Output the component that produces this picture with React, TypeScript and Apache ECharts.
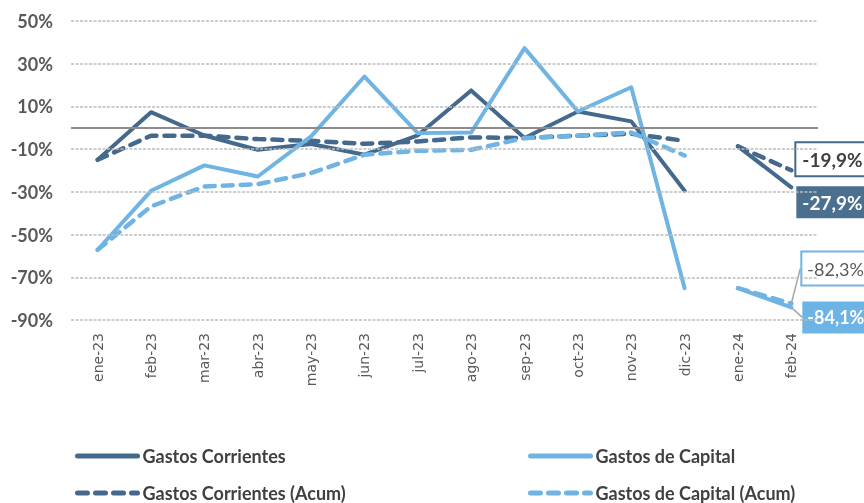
import React, { useEffect, useRef } from "react";
import * as echarts from "echarts";

const categories = ["ene-23", "feb-23", "mar-23", "abr-23", "may-23", "jun-23", "jul-23", "ago-23", "sep-23", "oct-23", "nov-23", "dic-23", "ene-24", "feb-24"];
const gastosCorrientes = [-15.0, 7.3, -3.6, -10.3, -7.6, -12.6, -3.5, 17.5, -4.8, 7.6, 3.0, -29.5, -8.7, -27.9];
const gastosCapital = [-57.1, -29.5, -17.6, -22.8, -4.0, 24.0, -2.5, -2.2, 37.3, 7.6, 19.0, -75.1, -75.1, -84.1];
const corrientesAcum = [-15.0, -3.7, -3.7, -5.3, -6.1, -7.5, -6.4, -4.5, -4.8, -3.7, -2.8, -6.1, -8.7, -19.9];
const capitalAcum = [-57.1, -36.8, -27.5, -26.4, -21.2, -12.6, -10.8, -10.3, -4.8, -3.7, -2.2, -13.0, -75.1, -82.3];
const gridTicks = [-90, -70, -50, -30, -10, 10, 30, 50];
const splitIndex = 12; // 2024 segment starts here (line is broken between dic-23 and ene-24)

const DARK = "#44698C";
const LIGHT = "#6FB4E2";
const fmt = (v: number) => v.toFixed(1).replace(".", ",") + "%";

export default function App() {
  const ref = useRef<HTMLDivElement>(null);
  useEffect(() => {
    if (!ref.current) return;
    const chart = echarts.init(ref.current, undefined, { renderer: "svg" });
    const last = categories.length - 1;

    const part = (vals: number[], first: boolean, label?: any) =>
      vals.map((v, i) => {
        const inPart = first ? i < splitIndex : i >= splitIndex;
        if (!inPart) return "-";
        if (label && i === last) return { value: v, label: { show: true, ...label } };
        return v;
      });

    const baseLabel = {
      position: "right",
      distance: 5,
      fontFamily: "Lato",
      fontSize: 19,
      lineHeight: 21,
      padding: [6, 6, 5, 6],
      formatter: (p: any) => fmt(p.value),
    };
    const capLabel = { ...baseLabel, fontSize: 18, padding: [6, 4, 5, 5] };

    const solid = (color: string) => ({ color, width: 4, cap: "round", join: "round" });
    const dashed = (color: string) => ({ color, width: 4.5, type: [10, 8], cap: "round", join: "round" });

    const mkSeries = (name: string, vals: number[], line: any, color: string, label: any, labelLayout?: any) => [
      { name, type: "line", data: part(vals, true), symbol: "none", lineStyle: line, itemStyle: { color }, z: 3 },
      {
        name, type: "line", data: part(vals, false, label), symbol: "circle", symbolSize: 0.01, showSymbol: true,
        lineStyle: line, itemStyle: { color }, z: 3,
        label: { show: false },
        labelLayout,
        labelLine: labelLayout ? { show: true, lineStyle: { color: "#A6A6A6", width: 1.5 } } : undefined,
      },
    ];

    const legendCommon = {
      orient: "vertical", top: 447, height: 100, padding: 0, itemWidth: 60, itemHeight: 18, itemGap: 19,
      itemStyle: { color: "rgba(0,0,0,0)", borderWidth: 0 },
      lineStyle: { width: 5, cap: "round" },
      textStyle: { fontFamily: "Lato", fontWeight: "bold", fontSize: 18, color: "#404040", lineHeight: 18 },
    };

    chart.setOption({
      animation: false,
      grid: { left: 71, right: 46, top: 21, bottom: 183, containLabel: false },
      legend: [
        { ...legendCommon, left: 75, data: ["Gastos Corrientes", "Gastos Corrientes (Acum)"] },
        { ...legendCommon, left: 528, data: ["Gastos de Capital", "Gastos de Capital (Acum)"] },
      ],
      xAxis: {
        type: "category",
        data: categories,
        boundaryGap: true,
        axisLine: { show: false },
        axisTick: { show: false },
        axisLabel: { rotate: 90, margin: 13, fontFamily: "DejaVu Sans", fontSize: 14, color: "#595959", interval: 0 },
      },
      yAxis: {
        type: "value",
        min: -90,
        max: 50,
        interval: 10,
        splitLine: { show: false },
        axisLine: { show: false },
        axisTick: { show: false },
        axisLabel: {
          margin: 18,
          fontFamily: "Lato",
          fontWeight: "bold",
          fontSize: 18,
          color: "#595959",
          formatter: (v: number) => (gridTicks.includes(v) ? v + "%" : ""),
        },
      },
      series: [
        {
          type: "line",
          data: [],
          silent: true,
          markLine: {
            silent: true,
            symbol: "none",
            label: { show: false },
            data: [
              ...gridTicks.map((t) => ({ yAxis: t, lineStyle: { color: "#BDBDBD", width: 1.5, type: [3, 1.5] } })),
              { yAxis: 0, lineStyle: { color: "#8C8C8C", width: 2, type: "solid" } },
            ],
          },
          z: 1,
        },
        ...mkSeries("Gastos Corrientes", gastosCorrientes, solid(DARK), DARK, {
          offset: [0, 15], ...baseLabel, color: "#FFFFFF", fontWeight: "bold", backgroundColor: "#4A6F8F",
        }),
        ...mkSeries("Gastos Corrientes (Acum)", corrientesAcum, dashed(DARK), DARK, {
          offset: [0, -11], ...baseLabel, color: "#404040", fontWeight: "bold", backgroundColor: "#FFFFFF",
          borderColor: DARK, borderWidth: 2,
        }),
        ...mkSeries("Gastos de Capital", gastosCapital, solid(LIGHT), LIGHT, {
          ...capLabel, color: "#FFFFFF", fontWeight: "bold", backgroundColor: "#6CB3E6",
        }, { dx: 6, dy: 10 }),
        ...mkSeries("Gastos de Capital (Acum)", capitalAcum, dashed(LIGHT), LIGHT, {
          ...capLabel, color: "#595959", fontWeight: "normal", backgroundColor: "#FFFFFF",
          borderColor: LIGHT, borderWidth: 2,
        }, { dx: 6, dy: -35 }),
      ],
    });
    return () => chart.dispose();
  }, []);
  return <div ref={ref} style={{ position: "fixed", left: 0, top: 0, width: 864, height: 503 }} />;
}
